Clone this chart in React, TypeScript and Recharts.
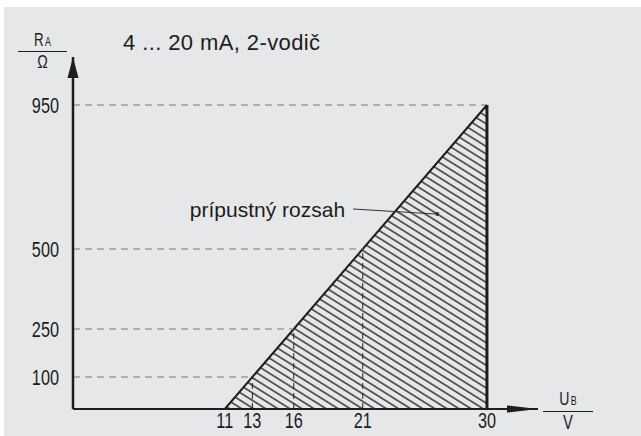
import React from "react";
import {
  Area,
  ComposedChart,
  ReferenceDot,
  ReferenceLine,
  XAxis,
  YAxis,
} from "recharts";

// supply voltage U_B [V] and the matching max. load R_A [Ω]
const boundaryU = [11, 30];
const boundaryR = [0, 950];
const guideU = [13, 16, 21, 30];
const guideR = [100, 250, 500, 950];
const xTicks = [11, 13, 16, 21, 30];
const yTicks = [100, 250, 500, 950];

const title = "4 ... 20 mA, 2-vodič";
const areaLabel = "prípustný rozsah";

const data = boundaryU.map((u, i) => ({ u, r: boundaryR[i] }));

const SANS = '"Liberation Sans", Arial, Helvetica, sans-serif';
const INK = "#1d1d1b";
const SQUEEZE = 0.74; // condensed look of the original lettering

const YTick = (props: any) => (
  <text
    transform={`translate(${props.x},${props.y}) scale(${SQUEEZE},1)`}
    textAnchor="end"
    dominantBaseline="central"
    fontFamily={SANS}
    fontSize={22}
    fill={INK}
  >
    {props.payload.value}
  </text>
);

const XTick = (props: any) => (
  <text
    transform={`translate(${props.x},${props.y + 19}) scale(${SQUEEZE},1)`}
    textAnchor="middle"
    fontFamily={SANS}
    fontSize={22}
    fill={INK}
  >
    {props.payload.value}
  </text>
);

const narrowBox = {
  transform: `scaleX(${SQUEEZE})`,
  transformOrigin: "center",
};

export default function App() {
  return (
    <div
      style={{
        position: "absolute",
        left: 0,
        top: 0,
        width: 641,
        height: 436,
        background: "#fff",
      }}
    >
      <div
        style={{
          position: "absolute",
          left: 4,
          top: 7,
          right: 0,
          bottom: 0,
          background: "#e6e7e8",
        }}
      />
      <div style={{ position: "absolute", left: 0, top: 0 }}>
        <ComposedChart
          width={641}
          height={436}
          data={data}
          margin={{ top: 57, right: 103, bottom: 0, left: 0 }}
        >
          <defs>
            <pattern
              id="hatch"
              patternUnits="userSpaceOnUse"
              width={8}
              height={6.4}
              patternTransform="rotate(32)"
            >
              <line x1={0} y1={1} x2={8} y2={1} stroke="#1a1a1a" strokeWidth={1.3} />
            </pattern>
          </defs>
          <XAxis
            dataKey="u"
            type="number"
            domain={[0, 33.7]}
            ticks={xTicks}
            height={27}
            tickLine={false}
            tickSize={0}
            tickMargin={0}
            axisLine={{ stroke: INK, strokeWidth: 2 }}
            tick={<XTick />}
            interval={0}
          />
          <YAxis
            type="number"
            domain={[0, 1100]}
            ticks={yTicks}
            width={73}
            tickLine={false}
            tickSize={0}
            tickMargin={14}
            axisLine={{ stroke: INK, strokeWidth: 2.5 }}
            tick={<YTick />}
            interval={0}
          />
          <Area
            dataKey="r"
            type="linear"
            stroke={INK}
            strokeWidth={2}
            fill="url(#hatch)"
            fillOpacity={1}
            baseValue={0}
            dot={false}
            activeDot={false}
            isAnimationActive={false}
          />
          {guideU.map((u, i) => (
            <ReferenceLine
              key={`h-${u}`}
              segment={[
                { x: 0, y: guideR[i] },
                { x: u, y: guideR[i] },
              ]}
              stroke="#777"
              strokeWidth={1}
              strokeDasharray="7 5"
            />
          ))}
          {guideU.slice(0, 3).map((u, i) => (
            <ReferenceLine
              key={`v-${u}`}
              segment={[
                { x: u, y: 0 },
                { x: u, y: guideR[i] },
              ]}
              stroke="#222"
              strokeWidth={1}
              strokeDasharray="6 4"
            />
          ))}
          <ReferenceLine
            segment={[
              { x: 30, y: 0 },
              { x: 30, y: 950 },
            ]}
            stroke={INK}
            strokeWidth={3}
          />
          <ReferenceLine
            segment={[
              { x: 20.3, y: 625 },
              { x: 26.4, y: 609 },
            ]}
            stroke="#333"
            strokeWidth={1}
          />
          <ReferenceDot x={26.4} y={609} r={2} fill="#333" stroke="none" />
          <ReferenceDot
            x={20.3}
            y={625}
            ifOverflow="visible"
            shape={(p: any) => (
              <text
                x={p.cx - 8}
                y={p.cy}
                textAnchor="end"
                dominantBaseline="central"
                fontFamily={SANS}
                fontSize={21}
                fill={INK}
              >
                {areaLabel}
              </text>
            )}
          />
          <ReferenceDot
            x={0}
            y={1100}
            ifOverflow="visible"
            shape={(p: any) => (
              <polygon
                points={`${p.cx},${p.cy} ${p.cx - 5.5},${p.cy + 21} ${p.cx + 5.5},${p.cy + 21}`}
                fill={INK}
              />
            )}
          />
          <ReferenceDot
            x={33.7}
            y={0}
            ifOverflow="visible"
            shape={(p: any) => (
              <polygon
                points={`${p.cx},${p.cy} ${p.cx - 31},${p.cy - 3.5} ${p.cx - 31},${p.cy + 3.5}`}
                fill={INK}
              />
            )}
          />
        </ComposedChart>
      </div>

      {/* title */}
      <div
        style={{
          position: "absolute",
          left: 123,
          top: 29,
          fontFamily: SANS,
          fontSize: 22,
          letterSpacing: 0.4,
          color: INK,
          lineHeight: "27px",
          whiteSpace: "nowrap",
        }}
      >
        {title}
      </div>

      {/* y unit: R_A / Ω */}
      <div
        style={{
          position: "absolute",
          left: 18,
          top: 31,
          width: 49,
          fontFamily: SANS,
          color: INK,
          textAlign: "center",
        }}
      >
        <div style={{ borderBottom: `1.5px solid ${INK}`, lineHeight: "18px" }}>
          <div style={narrowBox}>
            <span style={{ fontSize: 18 }}>R</span>
            <span style={{ fontSize: 12, marginLeft: 2 }}>A</span>
          </div>
        </div>
        <div style={{ ...narrowBox, fontSize: 19, lineHeight: "20px" }}>Ω</div>
      </div>

      {/* x unit: U_B / V */}
      <div
        style={{
          position: "absolute",
          left: 543,
          top: 389,
          width: 50,
          fontFamily: SANS,
          color: INK,
          textAlign: "center",
        }}
      >
        <div style={{ borderBottom: `1.5px solid ${INK}`, lineHeight: "19px" }}>
          <div style={narrowBox}>
            <span style={{ fontSize: 19 }}>U</span>
            <span style={{ fontSize: 12, marginLeft: 2 }}>B</span>
          </div>
        </div>
        <div style={{ ...narrowBox, fontSize: 20, lineHeight: "20px" }}>V</div>
      </div>
    </div>
  );
}
